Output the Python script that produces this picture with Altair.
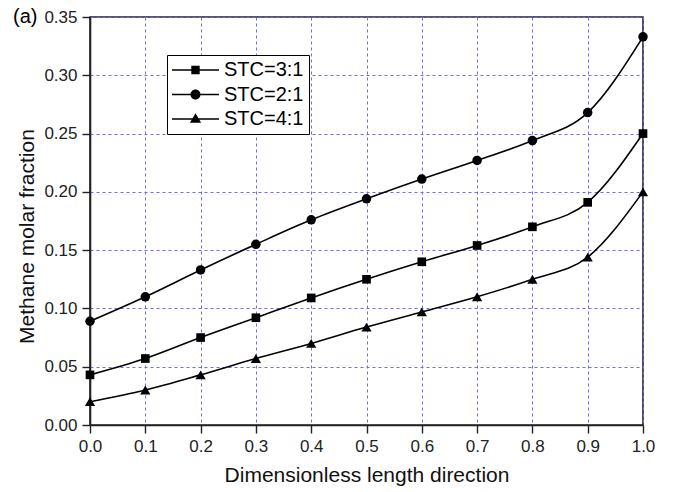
import altair as alt
import pandas as pd

# ---- data ----
x_vals = [0.0, 0.1, 0.2, 0.3, 0.4, 0.5, 0.6, 0.7, 0.8, 0.9, 1.0]
stc_31 = [0.043, 0.057, 0.075, 0.092, 0.109, 0.125, 0.140, 0.154, 0.170, 0.191, 0.250]
stc_21 = [0.089, 0.110, 0.133, 0.155, 0.176, 0.194, 0.211, 0.227, 0.244, 0.268, 0.333]
stc_41 = [0.020, 0.030, 0.043, 0.057, 0.070, 0.084, 0.097, 0.110, 0.125, 0.144, 0.200]
series_names = ["STC=3:1", "STC=2:1", "STC=4:1"]
x_ticks = [round(i * 0.05, 2) for i in range(21)]
y_ticks = [round(i * 0.025, 3) for i in range(15)]

rows = []
for name, vals in zip(series_names, [stc_31, stc_21, stc_41]):
    for xv, yv in zip(x_vals, vals):
        rows.append({"x": xv, "y": yv, "series": name})
df = pd.DataFrame(rows)

FONT = "Liberation Sans"
GRID = "#6b6bff"

x_enc = alt.X(
    "x:Q",
    scale=alt.Scale(domain=[0, 1.0], nice=False, zero=False),
    axis=alt.Axis(
        title="Dimensionless length direction",
        values=x_ticks,
        labelFlush=False,
        labelExpr="(round(datum.value*100) % 10 == 0) ? format(datum.value, '.1f') : ''",
        tickSize={"condition": {"test": "round(datum.value*100) % 10 != 0", "value": 4}, "value": 8},
        gridOpacity={"condition": {"test": "round(datum.value*100) % 10 != 0", "value": 0}, "value": 1},
        labelPadding=5,
        titlePadding=10,
    ),
)
y_enc = alt.Y(
    "y:Q",
    scale=alt.Scale(domain=[0, 0.35], nice=False, zero=False),
    axis=alt.Axis(
        title="Methane molar fraction",
        values=y_ticks,
        labelFlush=False,
        labelExpr="(round(datum.value*1000) % 50 == 0) ? format(datum.value, '.2f') : ''",
        tickSize={"condition": {"test": "round(datum.value*1000) % 50 != 0", "value": 4}, "value": 8},
        gridOpacity={"condition": {"test": "round(datum.value*1000) % 50 != 0", "value": 0}, "value": 1},
        labelPadding=5,
        titleX=-63,
        titleY=219,
        titleBaseline="middle",
    ),
)

base = alt.Chart(df)

lines = base.mark_line(interpolate="monotone", color="black", strokeWidth=1.6).encode(
    x=x_enc, y=y_enc, detail="series:N"
)

points = base.mark_point(filled=True, color="black", opacity=1).encode(
    x="x:Q",
    y="y:Q",
    shape=alt.Shape(
        "series:N",
        sort=series_names,
        scale=alt.Scale(domain=series_names, range=["square", "circle", "triangle-up"]),
        legend=None,
    ),
    size=alt.Size(
        "series:N",
        scale=alt.Scale(domain=series_names, range=[75, 105, 100]),
        legend=None,
    ),
)

# legend glyphs: a thin bar (the line) with the marker on top
legend_paths = [
    "M-2.35,-0.08H2.35V0.08H-2.35ZM-0.42,-0.42H0.42V0.42H-0.42Z",
    "M-2.35,-0.08H2.35V0.08H-2.35ZM-0.5,0A0.5,0.5,0,1,1,0.5,0A0.5,0.5,0,1,1,-0.5,0Z",
    "M-2.35,-0.08H2.35V0.08H-2.35ZM0,-0.58L0.56,0.38H-0.56Z",
]

legend_pts = base.mark_point(filled=True, color="black", opacity=0, size=10).encode(
    x="x:Q",
    y="y:Q",
    shape=alt.Shape(
        "series:N",
        sort=series_names,
        scale=alt.Scale(domain=series_names, range=legend_paths),
        legend=alt.Legend(
            title=None,
            orient="none",
            legendX=77,
            legendY=38,
            symbolSize=400,
            symbolOffset=13.5,
            symbolOpacity=1,
            symbolFillColor="black",
            symbolStrokeWidth=0,
            labelFontSize=20,
            labelFont=FONT,
            labelColor="black",
            labelOffset=18.5,
            padding=5,
            rowPadding=4.5,
            strokeColor="black",
            fillColor="white",
            cornerRadius=0,
        ),
    ),
)

chart = (
    alt.layer(lines, points, legend_pts)
    .resolve_scale(shape="independent", size="independent")
    .properties(
        width=553,
        height=408,
        autosize=alt.AutoSizeParams(type="none"),
        padding={"left": 90, "top": 17, "right": 30, "bottom": 67},
        title=alt.TitleParams(
            "(a)", anchor="start", frame="group", dx=-77, dy=19, offset=0,
            fontSize=20, font=FONT, fontWeight="normal", color="black",
        ),
    )
    .configure_view(stroke="#222222", strokeWidth=1.6)
    .configure_axis(
        labelFont=FONT,
        titleFont=FONT,
        labelFontSize=17,
        titleFontWeight="normal",
        labelColor="#222222",
        titleColor="#111111",
        tickColor="#222222",
        domainColor="#222222",
        domainWidth=1.6,
        tickWidth=1.4,
        gridColor=GRID,
        gridDash=[3, 3],
        gridWidth=1,
        titleFontSize=21,
    )
)

chart.save("out.html", embed_options={"renderer": "svg", "actions": False})
